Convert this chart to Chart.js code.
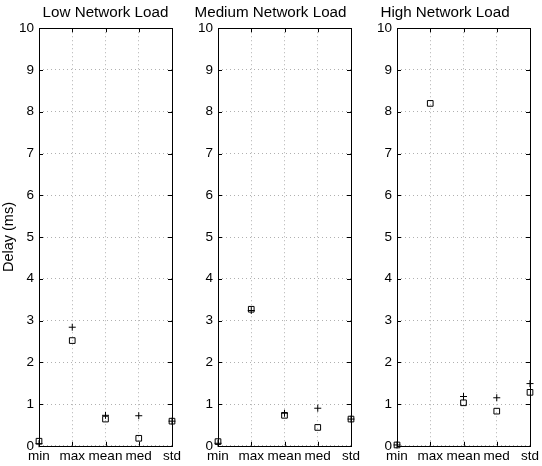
<!DOCTYPE html>
<html>
<head>
<meta charset="utf-8">
<script src="https://cdn.jsdelivr.net/npm/chart.js@4.4.0/dist/chart.umd.min.js"></script>
<style>
  body { margin: 0; background: #fff; }
  #wrap { position: relative; width: 542px; height: 466px; }
  .panel { position: absolute; top: 0; height: 466px; }
</style>
</head>
<body>
<div id="wrap">
  <div class="panel" style="left:0px;width:184px"><canvas id="lowChart"></canvas></div>
  <div class="panel" style="left:190px;width:173px"><canvas id="medChart"></canvas></div>
  <div class="panel" style="left:360px;width:182px"><canvas id="highChart"></canvas></div>
</div>
<script>
// statistics on the x axis
const categories = ["min", "max", "mean", "med", "std"];
const yTicks = [0, 1, 2, 3, 4, 5, 6, 7, 8, 9, 10];

// squares
const lowSquare = [0.11, 2.52, 0.64, 0.18, 0.59];
const medSquare = [0.10, 3.27, 0.73, 0.44, 0.64];
const highSquare = [0.02, 8.2, 1.03, 0.83, 1.28];

// plus markers
const lowPlus = [0.05, 2.84, 0.73, 0.72, 0.59];
const medPlus = [0.06, 3.24, 0.78, 0.90, 0.64];
const highPlus = [0.02, null, 1.18, 1.15, 1.49];

const FONT = "'Liberation Sans', Helvetica, Arial, sans-serif";
Chart.defaults.font.family = FONT;
Chart.defaults.color = "#000";

// black box round the axes with small inward ticks, like matlab
const boxPlugin = {
  id: "box",
  afterDraw(chart) {
    const { ctx, chartArea: a, scales } = chart;
    ctx.save();
    ctx.strokeStyle = "#000";
    ctx.lineWidth = 1;
    ctx.strokeRect(Math.round(a.left) + 0.5, Math.round(a.top) + 0.5,
      Math.round(a.right - a.left), Math.round(a.bottom - a.top));
    ctx.beginPath();
    const len = 4;
    scales.y.ticks.forEach((t) => {
      const y = Math.round(scales.y.getPixelForValue(t.value)) + 0.5;
      ctx.moveTo(a.left, y); ctx.lineTo(a.left + len, y);
      ctx.moveTo(a.right, y); ctx.lineTo(a.right - len, y);
    });
    categories.forEach((c, i) => {
      const x = Math.round(scales.x.getPixelForValue(i)) + 0.5;
      ctx.moveTo(x, a.top); ctx.lineTo(x, a.top + len);
      ctx.moveTo(x, a.bottom); ctx.lineTo(x, a.bottom - len);
    });
    ctx.stroke();
    ctx.restore();
  },
};

function makeChart(id, title, squares, pluses, axisWidth, showYTitle, titleFull) {
  const ctx = document.getElementById(id).getContext("2d");
  return new Chart(ctx, {
    type: "line",
    data: {
      labels: categories,
      datasets: [
        {
          label: "square",
          data: squares,
          showLine: false,
          pointStyle: "rect",
          pointRadius: 4,
          pointBorderColor: "#000",
          pointBackgroundColor: "rgba(0,0,0,0)",
          pointBorderWidth: 1,
          clip: false,
        },
        {
          label: "plus",
          data: pluses,
          showLine: false,
          pointStyle: "cross",
          pointRadius: 3.5,
          pointBorderColor: "#000",
          pointBorderWidth: 1,
          clip: false,
        },
      ],
    },
    options: {
      responsive: true,
      maintainAspectRatio: false,
      animation: false,
      layout: { padding: { top: 0, right: 12, bottom: 0, left: 0 } },
      scales: {
        x: {
          offset: false,
          grid: { color: "#b0b0b0", drawTicks: false },
          border: { display: false, dash: [1, 3] },
          ticks: { font: { size: 13.5 }, padding: 2, maxRotation: 0, autoSkip: false },
        },
        y: {
          min: 0,
          max: 10,
          afterBuildTicks: (s) => { s.ticks = yTicks.map((v) => ({ value: v })); },
          afterFit: (s) => { s.width = axisWidth; },
          grid: { color: "#b0b0b0", drawTicks: false },
          border: { display: false, dash: [1, 3] },
          ticks: { font: { size: 13.5 }, padding: 5 },
          title: {
            display: showYTitle,
            text: "Delay (ms)",
            font: { size: 14.5 },
            padding: 0,
          },
        },
      },
      plugins: {
        legend: { display: false },
        tooltip: { enabled: false },
        title: {
          display: true,
          text: title,
          fullSize: titleFull,
          font: { size: 15.2, weight: "normal" },
          padding: { top: 4, bottom: 6 },
        },
      },
    },
    plugins: [boxPlugin],
  });
}

makeChart("lowChart", "Low Network Load", lowSquare, lowPlus, 39, true, false);
makeChart("medChart", "Medium Network Load", medSquare, medPlus, 28, false, true);
makeChart("highChart", "High Network Load", highSquare, highPlus, 37, false, true);
</script>
</body>
</html>
